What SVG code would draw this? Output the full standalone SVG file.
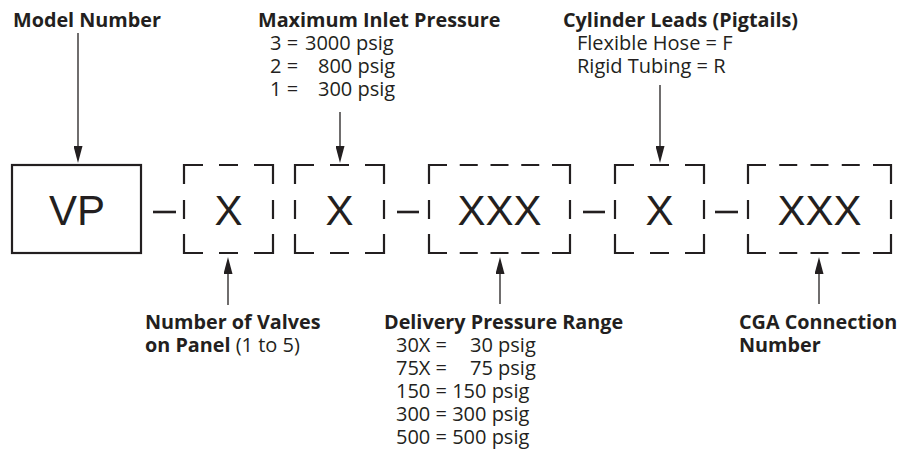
<svg xmlns="http://www.w3.org/2000/svg" width="907" height="454" viewBox="0 0 907 454">
<defs>
<style>
.lbl{font-family:"Open Sans","Noto Sans","Liberation Sans",sans-serif;font-size:20px;fill:#231f20}
.b{font-weight:bold;font-size:19.8px}
.big{font-family:"Liberation Sans",Arial,sans-serif;font-size:42px;fill:#231f20;text-anchor:middle}
.box{fill:none;stroke:#231f20;stroke-width:2.2}
.sep{stroke:#231f20;stroke-width:2.6}
.con{stroke:#231f20;stroke-width:1.3;fill:none}
</style>
<marker id="ah" markerUnits="userSpaceOnUse" markerWidth="17" markerHeight="9" refX="12" refY="4.5" orient="auto">
<path d="M0,0 L17,4.5 L0,9 z" fill="#231f20"/>
</marker>
</defs>
<rect width="907" height="454" fill="#ffffff"/>

<g id="node-vp">
<rect class="box" x="12" y="165" width="129" height="88"/>
<text class="big" x="77" y="225">VP</text>
</g>

<g id="node-valves">
<path class="box" d="M184,184 V165 H203 M219,165 H238 M254,165 H273 V184 M273,200 V219 M273,234 V253 H254 M238,253 H219 M203,253 H184 V234 M184,219 V200"/>
<text class="big" x="228.5" y="225">X</text>
</g>

<g id="node-inlet">
<path class="box" d="M295,184 V165 H314 M330,165 H349 M365,165 H384 V184 M384,200 V219 M384,234 V253 H365 M349,253 H330 M314,253 H295 V234 M295,219 V200"/>
<text class="big" x="339.5" y="225">X</text>
</g>

<g id="node-delivery">
<path class="box" d="M429,184 V165 H447 M459.75,165 H477.75 M490.5,165 H508.5 M521.25,165 H539.25 M552,165 H570 V184 M570,200 V219 M570,234 V253 H552 M539.25,253 H521.25 M508.5,253 H490.5 M477.75,253 H459.75 M447,253 H429 V234 M429,219 V200"/>
<text class="big" x="499.5" y="225">XXX</text>
</g>

<g id="node-leads">
<path class="box" d="M615,184 V165 H634 M650,165 H669 M685,165 H704 V184 M704,200 V219 M704,234 V253 H685 M669,253 H650 M634,253 H615 V234 M615,219 V200"/>
<text class="big" x="659.5" y="225">X</text>
</g>

<g id="node-cga">
<path class="box" d="M748,184 V165 H766 M779.25,165 H797.25 M810.5,165 H828.5 M841.75,165 H859.75 M873,165 H891 V184 M891,200 V219 M891,234 V253 H873 M859.75,253 H841.75 M828.5,253 H810.5 M797.25,253 H779.25 M766,253 H748 V234 M748,219 V200"/>
<text class="big" x="819.5" y="225">XXX</text>
</g>

<g id="separators">
<line class="sep" x1="153" y1="212" x2="176" y2="212"/>
<line class="sep" x1="397" y1="212" x2="419" y2="212"/>
<line class="sep" x1="583" y1="212" x2="605" y2="212"/>
<line class="sep" x1="715" y1="212" x2="738" y2="212"/>
</g>

<g id="connectors">
<line class="con" x1="78" y1="33" x2="78" y2="158" marker-end="url(#ah)"/>
<line class="con" x1="340" y1="112" x2="340" y2="158" marker-end="url(#ah)"/>
<line class="con" x1="660" y1="85" x2="660" y2="158" marker-end="url(#ah)"/>
<line class="con" x1="228" y1="305" x2="228" y2="262" marker-end="url(#ah)"/>
<line class="con" x1="500" y1="304" x2="500" y2="262" marker-end="url(#ah)"/>
<line class="con" x1="819" y1="304" x2="819" y2="262" marker-end="url(#ah)"/>
</g>

<g id="label-model">
<text class="lbl b" x="13" y="27">Model Number</text>
</g>

<g id="label-inlet">
<text class="lbl"><tspan class="b" x="258" y="27">Maximum Inlet Pressure</tspan><tspan x="270" y="50">3 =</tspan><tspan x="305" y="50">3000 psig</tspan><tspan x="270" y="73">2 =</tspan><tspan x="318" y="73">800 psig</tspan><tspan x="270" y="96">1 =</tspan><tspan x="318" y="96">300 psig</tspan></text>
</g>

<g id="label-leads">
<text class="lbl"><tspan class="b" x="563" y="27">Cylinder Leads (Pigtails)</tspan><tspan x="577" y="50">Flexible Hose = F</tspan><tspan x="577" y="73">Rigid Tubing = R</tspan></text>
</g>

<g id="label-valves">
<text class="lbl"><tspan class="b" x="145" y="329">Number of Valves</tspan><tspan class="b" x="145" y="352">on Panel</tspan><tspan> (1 to 5)</tspan></text>
</g>

<g id="label-delivery">
<text class="lbl"><tspan class="b" x="384" y="329">Delivery Pressure Range</tspan><tspan x="396" y="352">30X =</tspan><tspan x="470" y="352">30 psig</tspan><tspan x="396" y="375">75X =</tspan><tspan x="470" y="375">75 psig</tspan><tspan x="396" y="398">150 = 150 psig</tspan><tspan x="396" y="421">300 = 300 psig</tspan><tspan x="396" y="444">500 = 500 psig</tspan></text>
</g>

<g id="label-cga">
<text class="lbl"><tspan class="b" x="739" y="329">CGA Connection</tspan><tspan class="b" x="739" y="352">Number</tspan></text>
</g>
</svg>
